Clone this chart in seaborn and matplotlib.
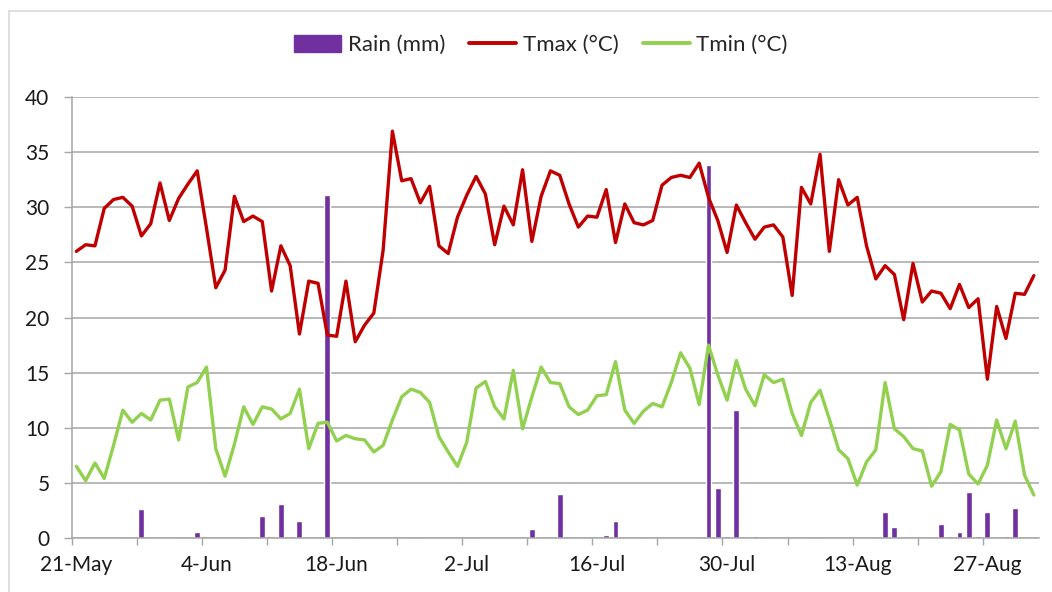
import numpy as np
import pandas as pd
import matplotlib
matplotlib.use("Agg")
import matplotlib.pyplot as plt
from matplotlib.lines import Line2D
from matplotlib.patches import Patch
import seaborn as sns

# Daily weather record, 21 May - 31 Aug
start_date = "2013-05-21"
n_days = 104

tmax = [26.0, 26.6, 26.5, 29.9, 30.7, 30.9, 30.1, 27.4, 28.5, 32.2,
        28.8, 30.8, 32.1, 33.3, 28.1, 22.7, 24.3, 31.0, 28.7, 29.2,
        28.7, 22.4, 26.5, 24.7, 18.5, 23.3, 23.1, 18.4, 18.3, 23.3,
        17.8, 19.3, 20.4, 26.1, 36.9, 32.4, 32.6, 30.4, 31.9, 26.5,
        25.8, 29.1, 31.1, 32.8, 31.2, 26.6, 30.1, 28.4, 33.4, 26.9,
        31.0, 33.3, 32.9, 30.3, 28.2, 29.2, 29.1, 31.6, 26.8, 30.3,
        28.6, 28.4, 28.8, 32.0, 32.7, 32.9, 32.7, 34.0, 30.9, 28.8,
        25.9, 30.2, 28.6, 27.1, 28.2, 28.4, 27.3, 22.0, 31.8, 30.3,
        34.8, 26.0, 32.5, 30.2, 30.9, 26.5, 23.5, 24.7, 23.9, 19.8,
        24.9, 21.4, 22.4, 22.2, 20.8, 23.0, 20.9, 21.7, 14.4, 21.0,
        18.1, 22.2, 22.1, 23.8]

tmin = [6.5, 5.2, 6.8, 5.4, 8.4, 11.6, 10.5, 11.3, 10.7, 12.5,
        12.6, 8.9, 13.7, 14.1, 15.5, 8.1, 5.6, 8.5, 11.9, 10.3,
        11.9, 11.7, 10.8, 11.3, 13.5, 8.1, 10.4, 10.5, 8.8, 9.3,
        9.0, 8.9, 7.8, 8.4, 10.7, 12.8, 13.5, 13.2, 12.3, 9.2,
        7.8, 6.5, 8.7, 13.6, 14.2, 11.9, 10.8, 15.2, 9.9, 12.8,
        15.5, 14.1, 14.0, 11.9, 11.2, 11.6, 12.9, 13.0, 16.0, 11.6,
        10.4, 11.5, 12.2, 11.9, 14.1, 16.8, 15.4, 12.1, 17.5, 14.8,
        12.5, 16.1, 13.5, 12.0, 14.8, 14.1, 14.4, 11.3, 9.3, 12.3,
        13.4, 10.8, 8.0, 7.2, 4.8, 6.9, 8.0, 14.1, 9.9, 9.2,
        8.1, 7.9, 4.7, 6.0, 10.3, 9.8, 5.8, 4.9, 6.6, 10.7,
        8.1, 10.6, 5.7, 3.9]

rain = [0, 0, 0, 0, 0, 0, 0, 2.6, 0, 0,
        0, 0, 0, 0.55, 0, 0, 0, 0, 0, 0,
        2.0, 0, 3.1, 0, 1.5, 0, 0, 31.1, 0, 0,
        0, 0, 0, 0, 0, 0, 0, 0, 0, 0,
        0, 0, 0, 0, 0, 0, 0, 0, 0, 0.8,
        0, 0, 4.0, 0, 0, 0, 0, 0.3, 1.5, 0,
        0, 0, 0, 0, 0, 0, 0, 0, 33.8, 4.5,
        0.15, 11.6, 0, 0.15, 0, 0, 0, 0, 0, 0,
        0, 0, 0, 0, 0, 0, 0, 2.4, 1.0, 0,
        0, 0, 0, 1.3, 0.15, 0.55, 4.2, 0.15, 2.4, 0,
        0.15, 2.7, 0, 0]

tick_labels = ["21-May", "4-Jun", "18-Jun", "2-Jul", "16-Jul",
               "30-Jul", "13-Aug", "27-Aug"]
y_ticks = [0, 5, 10, 15, 20, 25, 30, 35, 40]

RAIN_C = "#7030A0"
TMAX_C = "#C00000"
TMIN_C = "#92D050"
GRID_C = "#A6A6A6"

sns.set_theme(style="white")
plt.rcParams["font.family"] = ["Lato", "DejaVu Sans"]

# each day occupies one unit band on the x axis, marks sit at band centres
day = np.arange(n_days) + 0.5
df = pd.DataFrame({"day": day, "Tmax": tmax, "Tmin": tmin, "Rain": rain})

fig = plt.figure(figsize=(10.52, 5.92), dpi=100)
ax = fig.add_axes([71.7 / 1052, 1 - 538 / 592, (1038.5 - 71.7) / 1052, (538 - 97) / 592])

sns.barplot(data=df, x="day", y="Rain", native_scale=True, width=0.64,
            color=RAIN_C, saturation=1, errorbar=None, ax=ax, zorder=2)
sns.lineplot(data=df, x="day", y="Tmax", color=TMAX_C, lw=2.4, ax=ax, zorder=3)
sns.lineplot(data=df, x="day", y="Tmin", color=TMIN_C, lw=2.4, ax=ax, zorder=3)

ax.set_xlim(0, n_days)
ax.set_ylim(0, 40)
ax.set_xlabel("")
ax.set_ylabel("")

# weekly tick marks on band edges, fortnightly labels on band centres
ax.set_xticks(np.arange(0, n_days, 7))
ax.set_xticklabels([])
ax.set_xticks(np.arange(0, n_days, 14) + 0.5, minor=True)
ax.set_xticklabels(tick_labels, minor=True)
ax.tick_params(axis="x", which="major", length=5, width=1, color=GRID_C,
               direction="out", bottom=True)
ax.tick_params(axis="x", which="minor", length=0, pad=12, labelsize=15,
               labelcolor="#1a1a1a")

ax.set_yticks(y_ticks)
ax.set_yticklabels([str(v) for v in y_ticks])
ax.tick_params(axis="y", length=6, width=1, color=GRID_C, direction="out",
               left=True, pad=10, labelsize=15, labelcolor="#1a1a1a")

ax.grid(axis="y", color=GRID_C, lw=1.1, zorder=0)
ax.grid(axis="x", visible=False)
ax.set_axisbelow(True)
for side in ("top", "right"):
    ax.spines[side].set_visible(False)
for side in ("left", "bottom"):
    ax.spines[side].set_color(GRID_C)
    ax.spines[side].set_linewidth(1.1)

handles = [Patch(facecolor=RAIN_C, edgecolor=RAIN_C, label="Rain (mm)"),
           Line2D([], [], color=TMAX_C, lw=2.8, label="Tmax (°C)"),
           Line2D([], [], color=TMIN_C, lw=2.8, label="Tmin (°C)")]
fig.legend(handles=handles, loc="center", bbox_to_anchor=(541 / 1052, 1 - 45 / 592),
           ncol=3, frameon=False, fontsize=16, handlelength=2.1,
           handleheight=0.8, handletextpad=0.3, columnspacing=1.1)

# outer chart frame
fig.add_artist(Line2D([9.5 / 1052, 9.5 / 1052], [0, 1 - 11 / 592],
                      color="#D9D9D9", lw=1.2, transform=fig.transFigure))
fig.add_artist(Line2D([9.5 / 1052, 1], [1 - 11 / 592, 1 - 11 / 592],
                      color="#D9D9D9", lw=1.2, transform=fig.transFigure))

fig.savefig("out.png", dpi=100)
